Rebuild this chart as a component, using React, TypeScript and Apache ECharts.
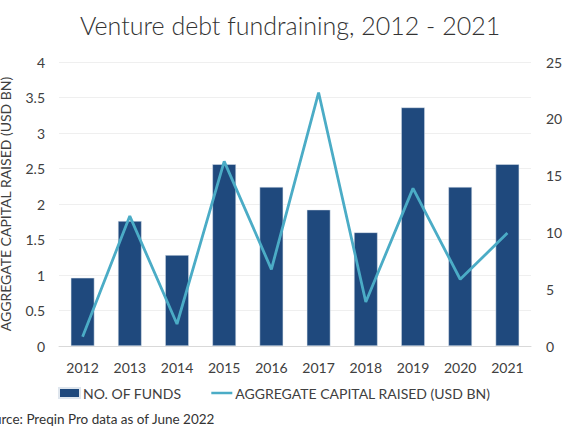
import React, { useEffect, useRef } from "react";
import * as echarts from "echarts";

const years = ["2012", "2013", "2014", "2015", "2016", "2017", "2018", "2019", "2020", "2021"];
const numberOfFunds = [6, 11, 8, 16, 14, 12, 10, 21, 14, 16];
const aggregateCapital = [0.13, 1.83, 0.31, 2.6, 1.08, 3.57, 0.62, 2.22, 0.94, 1.59];

const FONT = "Lato, 'Open Sans', sans-serif";
const TXT = "#404040";

export default function App() {
  const ref = useRef<HTMLDivElement>(null);
  useEffect(() => {
    document.body.style.margin = "0";
    if (!ref.current) return;
    const chart = echarts.init(ref.current, undefined, { renderer: "svg" });
    chart.setOption({
      animation: false,
      textStyle: { fontFamily: FONT },
      title: {
        text: "Venture debt fundraining, 2012 - 2021",
        left: "center",
        top: 7,
        textStyle: { fontFamily: FONT, fontSize: 25, fontWeight: 300, color: "#333333" },
      },
      grid: { left: 59, right: 49, top: 62, bottom: 89, outerBoundsMode: "none", containLabel: false },
      legend: {
        bottom: 30,
        left: 53,
        itemWidth: 21,
        itemHeight: 10,
        itemGap: 30,
        symbolKeepAspect: true,
        textStyle: { fontFamily: FONT, fontSize: 14, color: TXT, padding: [0, 0, 0, -2] },
        data: [
          { name: "NO. OF FUNDS", icon: "rect" },
          {
            name: "AGGREGATE CAPITAL RAISED (USD BN)",
            icon: "path://M0,0 L21,0 L21,2.5 L0,2.5 Z",
            itemStyle: { color: "#4bacc6" },
          },
        ],
      },
      xAxis: {
        type: "category",
        data: years,
        axisTick: { show: false },
        axisLine: { lineStyle: { color: "#d9d9d9" } },
        axisLabel: { color: TXT, fontSize: 14, margin: 14, fontFamily: FONT },
      },
      yAxis: [
        {
          type: "value",
          min: 0,
          max: 4,
          interval: 0.5,
          name: "AGGREGATE CAPITAL RAISED (USD BN)",
          nameLocation: "middle",
          nameGap: 47,
          nameTextStyle: { color: TXT, fontSize: 14, fontFamily: FONT },
          axisLabel: { color: TXT, fontSize: 14, margin: 14, fontFamily: FONT },
          splitLine: { lineStyle: { color: "#efefef" } },
          axisLine: { show: false },
          axisTick: { show: false },
        },
        {
          type: "value",
          min: 0,
          max: 25,
          interval: 5,
          position: "right",
          axisLabel: { color: TXT, fontSize: 14, margin: 15, fontFamily: FONT },
          splitLine: { show: false },
          axisLine: { show: false },
          axisTick: { show: false },
        },
      ],
      series: [
        {
          name: "NO. OF FUNDS",
          type: "bar",
          yAxisIndex: 1,
          data: numberOfFunds,
          barWidth: "50%",
          itemStyle: { color: "#1f497d", borderColor: "#dfe6ee", borderWidth: 0.5 },
        },
        {
          name: "AGGREGATE CAPITAL RAISED (USD BN)",
          type: "line",
          yAxisIndex: 0,
          data: aggregateCapital,
          symbol: "none",
          lineStyle: { color: "#4bacc6", width: 2.8 },
          itemStyle: { color: "#4bacc6" },
        },
      ],
      graphic: [
        {
          type: "text",
          left: -21,
          top: 412,
          style: {
            text: "Source: Preqin Pro data as of June 2022",
            fontSize: 13.5,
            fontFamily: FONT,
            fill: "#333333",
          },
        },
      ],
    });
    return () => chart.dispose();
  }, []);
  return <div ref={ref} style={{ width: 580, height: 435 }} />;
}
